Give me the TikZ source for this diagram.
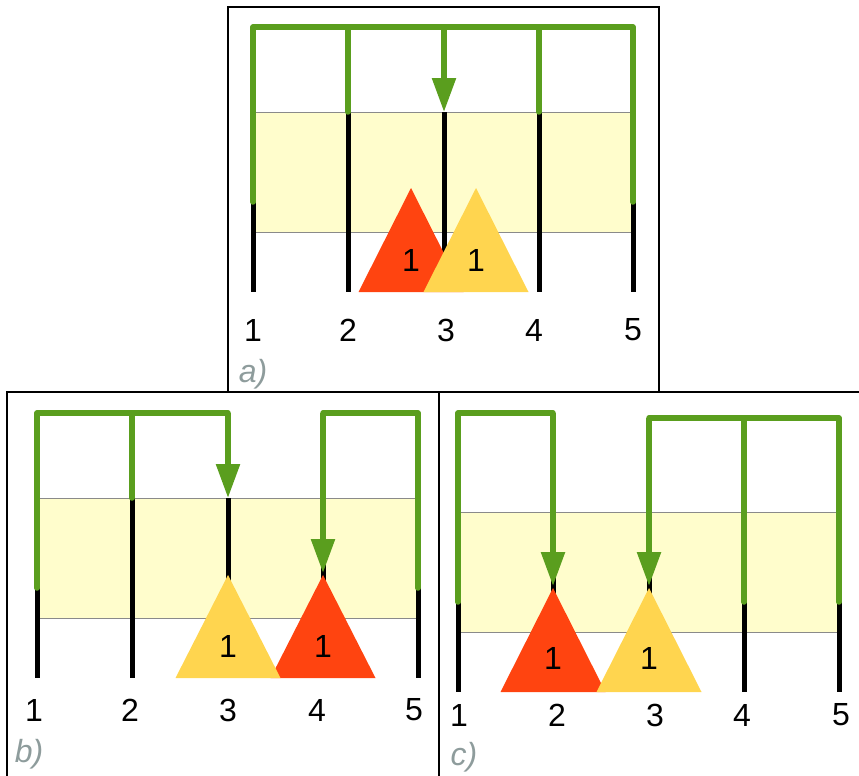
\documentclass[tikz,border=0pt]{standalone}
\usepackage{fontspec}
\setmainfont{Liberation Sans}
\usetikzlibrary{arrows.meta, calc}
\definecolor{WireGreen}{HTML}{5A9E1E}
\definecolor{BandYellow}{HTML}{FFFDCC}
\definecolor{BandGray}{HTML}{8A8A8A}
\definecolor{TriRed}{HTML}{FF4410}
\definecolor{TriYellow}{HTML}{FFD54F}
\definecolor{TagGray}{HTML}{8E9C9C}
\tikzset{
    % Text nodes
    every node/.style={font=\fontsize{32}{38}\selectfont, inner sep=0pt},
    % Panel frame
    panel/.style={draw=black, line width=1.5pt},
    % Shaded band
    band/.style={fill=BandYellow, draw=BandGray, line width=1pt},
    % Black post
    post/.style={draw=black, line width=5pt},
    % Green wire
    wire/.style={draw=WireGreen, line width=5.5pt, line join=round, line cap=round},
    % Green wire ending in an arrow
    feed/.style={wire, line cap=butt, -{Triangle[width=23pt, length=34pt]}},
    % Triangles
    redtri/.style={fill=TriRed},
    yeltri/.style={fill=TriYellow},
    % Panel tag
    tag/.style={anchor=base, text=TagGray, font=\fontsize{32}{38}\selectfont\itshape}
}

\begin{document}
\begin{tikzpicture}[x=1pt, y=-1pt]
    \useasboundingbox (0,0) rectangle (859,776);

    % Frames
    \draw[panel] (228,7) rectangle (659,392);
    \draw[panel] (7,392) rectangle (439,800);
    \draw[panel] (439,392) rectangle (880,800);

    % Panel a
    \coordinate (a1) at (253,292);
    \coordinate (a2) at (348,292);
    \coordinate (a3) at (444,292);
    \coordinate (a4) at (539,292);
    \coordinate (a5) at (633,292);
    \coordinate (awire) at (0,27);
    \coordinate (aband) at (0,112);
    \coordinate (agreen) at (0,202);
    \draw[band] (a1 |- aband) rectangle (633,232);
    \foreach \i in {1,...,5} {
        \draw[post] (a\i |- aband) -- (a\i);
    }
    \draw[wire] (a1 |- agreen) -- (a1 |- awire) -- (a5 |- awire) -- (a5 |- agreen);
    \draw[wire] (a2 |- awire) -- (a2 |- aband);
    \draw[wire] (a4 |- awire) -- (a4 |- aband);
    \draw[feed] (a3 |- awire) -- (a3 |- aband);
    \coordinate (ared) at (411,188);
    \coordinate (ayel) at (476,188);
    \fill[redtri] (ared) -- ++(-52.5,104) -- ++(105,0) -- cycle;
    \fill[yeltri] (ayel) -- ++(-52.5,104) -- ++(105,0) -- cycle;
    \node (a-r) at ([yshift=-72pt]ared) {1};
    \node (a-y) at ([yshift=-72pt]ayel) {1};
    \node (a-n1) at (253,330) {1};
    \node (a-n2) at (348,330) {2};
    \node (a-n3) at (446,330) {3};
    \node (a-n4) at (534,330) {4};
    \node (a-n5) at (633,330) {5};
    \node (a-tag) [tag] at (253,382) {a)};

    % Panel b
    \coordinate (b1) at (37,678);
    \coordinate (b2) at (132,678);
    \coordinate (b3) at (228,678);
    \coordinate (b4) at (323,678);
    \coordinate (b5) at (418,678);
    \coordinate (bwire) at (0,413);
    \coordinate (bband) at (0,498);
    \coordinate (bgreen) at (0,588);
    \coordinate (bred) at (323,575);
    \coordinate (byel) at (228,575);
    \draw[band] (b1 |- bband) rectangle (418,618);
    \foreach \i in {1,...,5} {
        \draw[post] (b\i |- bband) -- (b\i);
    }
    \draw[wire] (b1 |- bgreen) -- (b1 |- bwire) -- (b3 |- bwire);
    \draw[wire] (b2 |- bwire) -- (b2 |- bband);
    \draw[feed] (b3 |- bwire) -- (b3 |- bband);
    \draw[wire] (b5 |- bgreen) -- (b5 |- bwire) -- (b4 |- bwire);
    \draw[feed] (b4 |- bwire) -- ([yshift=2pt]bred);
    \fill[redtri] (bred) -- ++(-52.5,103) -- ++(105,0) -- cycle;
    \fill[yeltri] (byel) -- ++(-52.5,103) -- ++(105,0) -- cycle;
    \node (b-y) at ([yshift=-71pt]byel) {1};
    \node (b-r) at ([yshift=-71pt]bred) {1};
    \node (b-n1) at (34,710) {1};
    \node (b-n2) at (130,710) {2};
    \node (b-n3) at (228,710) {3};
    \node (b-n4) at (317,710) {4};
    \node (b-n5) at (414,710) {5};
    \node (b-tag) [tag] at (29,762) {b)};

    % Panel c
    \coordinate (c1) at (458,692);
    \coordinate (c2) at (553,692);
    \coordinate (c3) at (649,692);
    \coordinate (c4) at (744,692);
    \coordinate (c5) at (839,692);
    \coordinate (cwire) at (0,413);
    \coordinate (cwire2) at (0,418);
    \coordinate (cband) at (0,512);
    \coordinate (cgreen) at (0,602);
    \coordinate (cred) at (553,588);
    \coordinate (cyel) at (649,588);
    \draw[band] (c1 |- cband) rectangle (839,632);
    \foreach \i in {1,...,5} {
        \draw[post] (c\i |- cband) -- (c\i);
    }
    \draw[wire] (c1 |- cgreen) -- (c1 |- cwire) -- (c2 |- cwire);
    \draw[feed] (c2 |- cwire) -- ([yshift=2pt]cred);
    \draw[wire] (c5 |- cgreen) -- (c5 |- cwire2) -- (c3 |- cwire2);
    \draw[wire] (c4 |- cwire2) -- (c4 |- cgreen);
    \draw[feed] (c3 |- cwire2) -- ([yshift=2pt]cyel);
    \fill[redtri] (cred) -- ++(-52.5,104) -- ++(105,0) -- cycle;
    \fill[yeltri] (cyel) -- ++(-52.5,104) -- ++(105,0) -- cycle;
    \node (c-r) at ([yshift=-70pt]cred) {1};
    \node (c-y) at ([yshift=-70pt]cyel) {1};
    \node (c-n1) at (459,715) {1};
    \node (c-n2) at (557,715) {2};
    \node (c-n3) at (655,715) {3};
    \node (c-n4) at (742,715) {4};
    \node (c-n5) at (841,715) {5};
    \node (c-tag) [tag] at (464,765) {c)};
\end{tikzpicture}
\end{document}
